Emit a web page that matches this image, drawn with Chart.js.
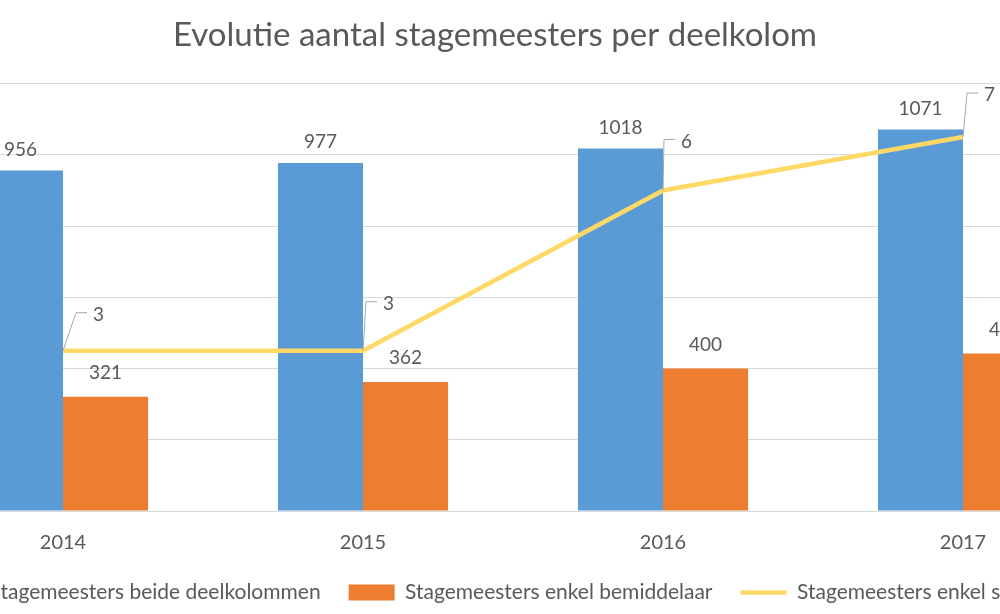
<!DOCTYPE html>
<html>
<head>
<meta charset="utf-8">
<script src="https://cdn.jsdelivr.net/npm/chart.js@4"></script>
<style>
  html, body { margin: 0; padding: 0; overflow: hidden; background: #fff; }
  #wrap { position: absolute; left: -123px; top: 0; width: 1236px; height: 614px; }
</style>
</head>
<body>
<div id="wrap"><canvas id="myChart"></canvas></div>
<script>
// data
const jaren = ['2014', '2015', '2016', '2017'];
const beideDeelkolommen = [956, 977, 1018, 1071];
const enkelBemiddelaar = [321, 362, 400, 442];
const enkelStagegever = [3, 3, 6, 7];

// plaats van de labels bij de lijn (knik van de hulplijn t.o.v. het punt)
const knikken = [[13, -38], [3, -49], [1, -51], [4, -44]];

const tekstKleur = '#595959';
const lettertype = 'Lato';

// labels boven de staven en bij de lijn
const labelsPlugin = {
    id: 'labels',
    afterDatasetsDraw(chart) {
        const c = chart.ctx;
        c.save();
        c.font = '19px ' + lettertype;
        c.fillStyle = tekstKleur;
        c.textAlign = 'center';
        c.textBaseline = 'middle';
        [0, 1].forEach(i => {
            const meta = chart.getDatasetMeta(i);
            const extra = i === 0 ? 21 : 24;
            meta.data.forEach((bar, j) => {
                c.fillText(chart.data.datasets[i].data[j], bar.x, bar.y - extra);
            });
        });
        const lijn = chart.getDatasetMeta(2);
        lijn.data.forEach((pt, j) => {
            const [dx, dy] = knikken[j];
            c.strokeStyle = '#A6A6A6';
            c.lineWidth = 1;
            c.beginPath();
            c.moveTo(pt.x, pt.y);
            c.lineTo(pt.x + dx, pt.y + dy);
            c.lineTo(pt.x + dx + 11, pt.y + dy);
            c.stroke();
            c.textAlign = 'left';
            c.fillText(chart.data.datasets[2].data[j], pt.x + dx + 17, pt.y + dy + 2);
        });
        c.restore();
    }
};

// legende dichter tegen de jaartallen zetten en iets naar rechts
const legendePlugin = {
    id: 'legendeHoger',
    beforeInit(chart) {
        const lg = chart.legend;
        const fit = lg.fit.bind(lg);
        lg.fit = function () { fit(); this.height -= 26; };
    },
    afterLayout(chart) {
        const lg = chart.legend;
        lg.top -= 21;
        lg.height += 21;
        lg.left += 17;
        lg.right += 17;
    }
};

new Chart(document.getElementById('myChart'), {
    type: 'bar',
    data: {
        labels: jaren,
        datasets: [{
            label: 'Stagemeesters beide deelkolommen',
            data: beideDeelkolommen,
            backgroundColor: '#5B9BD5',
            categoryPercentage: 0.567,
            barPercentage: 1,
            yAxisID: 'y',
            order: 2,
        }, {
            label: 'Stagemeesters enkel bemiddelaar',
            data: enkelBemiddelaar,
            backgroundColor: '#ED7D31',
            categoryPercentage: 0.567,
            barPercentage: 1,
            yAxisID: 'y',
            order: 2,
        }, {
            type: 'line',
            label: 'Stagemeesters enkel stagegever',
            data: enkelStagegever,
            borderColor: '#FFD966',
            backgroundColor: '#FFD966',
            borderWidth: 4.5,
            pointRadius: 0,
            fill: false,
            tension: 0,
            yAxisID: 'y1',
            order: 1,
        }]
    },
    options: {
        responsive: true,
        maintainAspectRatio: false,
        animation: false,
        layout: {
            padding: { left: 0, right: 0, top: 0, bottom: 6 },
        },
        plugins: {
            title: {
                display: true,
                text: 'Evolutie aantal stagemeesters per deelkolom',
                color: tekstKleur,
                font: { family: lettertype, size: 33, weight: 'normal' },
                padding: { top: 16, bottom: 28 },
            },
            legend: {
                position: 'bottom',
                labels: {
                    color: tekstKleur,
                    font: { family: lettertype, size: 21 },
                    usePointStyle: true,
                    pointStyleWidth: 46,
                    boxWidth: 46,
                    boxHeight: 16,
                    padding: 28,
                    sort: (a, b) => a.datasetIndex - b.datasetIndex,
                    generateLabels(chart) {
                        const items = Chart.defaults.plugins.legend.labels.generateLabels(chart);
                        items.forEach(it => {
                            const ds = chart.data.datasets[it.datasetIndex];
                            if (ds.type === 'line') {
                                it.pointStyle = 'line';
                                it.lineWidth = 4.5;
                                it.strokeStyle = ds.borderColor;
                            } else {
                                it.pointStyle = 'rect';
                                it.lineWidth = 0;
                                it.fillStyle = ds.backgroundColor;
                            }
                        });
                        return items;
                    },
                },
            },
            tooltip: { enabled: false },
        },
        scales: {
            x: {
                grid: { display: false, drawTicks: false },
                border: { color: '#D9D9D9' },
                ticks: {
                    color: tekstKleur,
                    font: { family: lettertype, size: 20 },
                    padding: 20,
                },
            },
            y: {
                min: 0,
                max: 1200,
                ticks: { stepSize: 200, display: false },
                grid: { color: '#D9D9D9', drawTicks: false },
                border: { display: false },
                afterFit(scale) { scale.width = 36; },
            },
            y1: {
                min: 0,
                max: 8,
                display: false,
                position: 'right',
            },
        },
    },
    plugins: [labelsPlugin, legendePlugin],
});
</script>
</body>
</html>
